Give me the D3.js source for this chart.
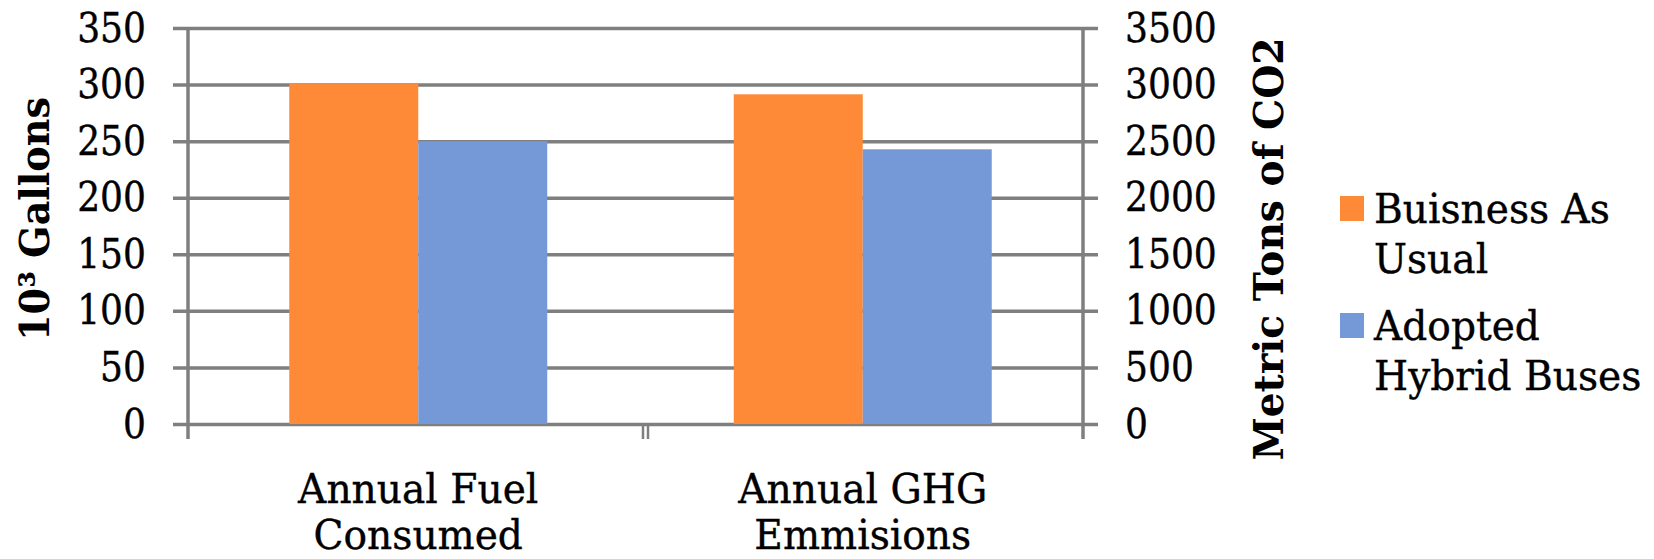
<!DOCTYPE html>
<html>
<head>
<meta charset="utf-8">
<script src="https://d3js.org/d3.v7.min.js"></script>
<style>
  html, body { margin: 0; padding: 0; background: #ffffff; }
  svg { display: block; }
  text { font-family: "DejaVu Serif", "Liberation Serif", serif; fill: #000; }
</style>
</head>
<body>
<svg id="chart" width="1654" height="559"></svg>
<script>
// Categories (each label is split over two lines)
const categories = ["Annual Fuel Consumed", "Annual GHG Emmisions"];
const categoryLines = [["Annual Fuel", "Consumed"], ["Annual GHG", "Emmisions"]];
// Which vertical axis each category is measured against
const categoryAxis = ["left", "right"];

// Series values per category (fuel in 10^3 gallons, GHG in metric tons CO2)
const seriesNames = ["Buisness As Usual", "Adopted Hybrid Buses"];
const businessAsUsual = [301, 2914];
const adoptedHybrid = [250, 2428];

// Tick labels
const leftTicks = [0, 50, 100, 150, 200, 250, 300, 350];
const rightTicks = [0, 500, 1000, 1500, 2000, 2500, 3000, 3500];

const colors = ["#FE8937", "#7598D6"];
const gridColor = "#7f7f7f";
const sxNum = 0.88;  // horizontal squeeze for tick numbers
const sxText = 0.955; // horizontal squeeze for words

const svg = d3.select("#chart");

const plotLeft = 188, plotRight = 1083, plotTop = 28, plotBottom = 424;
const tickOut = 15;

const yLeft = d3.scaleLinear().domain([0, 350]).range([plotBottom, plotTop]);
const yRight = d3.scaleLinear().domain([0, 3500]).range([plotBottom, plotTop]);

const x0 = d3.scaleBand().domain(categories).range([plotLeft + 8, plotRight + 2]).padding(0);
const x1 = d3.scaleBand().domain(seriesNames).range([0, 258]).padding(0);
const groupOffset = (x0.bandwidth() - 258) / 2;

function styleTickText(sel) {
  sel.attr("font-size", 41)
    .attr("font-family", "DejaVu Serif")
    .attr("fill", "#000")
    .attr("stroke", "#000")
    .attr("stroke-width", 0.4)
    .attr("transform", `scale(${sxNum},1)`);
}

// Horizontal gridlines + left tick labels
const leftAxis = d3.axisLeft(yLeft)
  .tickValues(leftTicks)
  .tickFormat(d3.format("d"))
  .tickSize(-(plotRight - plotLeft + 2 * tickOut))
  .tickPadding(27 / sxNum);
const gL = svg.append("g")
  .attr("transform", `translate(${plotLeft - tickOut},0)`)
  .call(leftAxis);
gL.select(".domain").remove();
gL.selectAll("line").attr("stroke", gridColor).attr("stroke-width", 3.5);
gL.selectAll("text").call(styleTickText);

// Right tick labels
const rightAxis = d3.axisRight(yRight)
  .tickValues(rightTicks)
  .tickFormat(d3.format("d"))
  .tickSize(0)
  .tickPadding(27 / sxNum);
const gR = svg.append("g")
  .attr("transform", `translate(${plotRight + tickOut},0)`)
  .call(rightAxis);
gR.select(".domain").remove();
gR.selectAll("text").call(styleTickText);

// Bars
const rows = categories.map((c, i) => ({
  cat: c,
  scale: categoryAxis[i] === "left" ? yLeft : yRight,
  values: [businessAsUsual[i], adoptedHybrid[i]]
}));

const groups = svg.append("g").selectAll("g")
  .data(rows)
  .join("g")
  .attr("transform", d => `translate(${x0(d.cat) + groupOffset},0)`);

groups.selectAll("rect")
  .data(d => d.values.map((v, j) => ({ name: seriesNames[j], v, scale: d.scale, j })))
  .join("rect")
  .attr("x", d => x1(d.name))
  .attr("width", x1.bandwidth())
  .attr("y", d => d.scale(d.v))
  .attr("height", d => d.scale(0) - d.scale(d.v))
  .attr("fill", d => colors[d.j]);

// Vertical axis lines
const axisLines = svg.append("g").attr("stroke", gridColor).attr("stroke-width", 3.5);
[plotLeft, plotRight].forEach(x => {
  axisLines.append("line")
    .attr("x1", x).attr("x2", x)
    .attr("y1", plotTop).attr("y2", plotBottom + tickOut);
});
// Category divider tick (doubled)
const divider = x0(categories[1]) + 5;
[-2.5, 2.5].forEach(dx => {
  axisLines.append("line")
    .attr("x1", divider + dx).attr("x2", divider + dx)
    .attr("y1", plotBottom).attr("y2", plotBottom + tickOut)
    .attr("stroke-width", 2.5);
});

// Category labels
const catLabels = svg.append("g");
categories.forEach((c, i) => {
  const cx = x0(c) + x0.bandwidth() / 2;
  categoryLines[i].forEach((line, k) => {
    catLabels.append("text")
      .attr("transform", `translate(${cx},${503 + k * 46}) scale(${sxText},1)`)
      .attr("text-anchor", "middle")
      .attr("font-size", 41)
      .attr("stroke", "#000")
      .attr("stroke-width", 0.4)
      .text(line);
  });
});

// Axis titles
svg.append("text")
  .attr("transform", `translate(49,${(plotTop + plotBottom) / 2 - 7}) rotate(-90) scale(0.93,1)`)
  .attr("text-anchor", "middle")
  .attr("font-size", 41)
  .attr("font-weight", "bold")
  .text("10³ Gallons");

svg.append("text")
  .attr("transform", `translate(1283,${(plotTop + plotBottom) / 2 + 23}) rotate(-90) scale(${sxText},1)`)
  .attr("text-anchor", "middle")
  .attr("font-size", 41)
  .attr("font-weight", "bold")
  .text("Metric Tons of CO2");

// Legend
const legendItems = [
  { lines: ["Buisness As", "Usual"], top: 196 },
  { lines: ["Adopted", "Hybrid Buses"], top: 313 }
];
const legend = svg.append("g");
legendItems.forEach((item, i) => {
  legend.append("rect")
    .attr("x", 1340).attr("y", item.top)
    .attr("width", 24).attr("height", 25)
    .attr("fill", colors[i]);
  item.lines.forEach((line, k) => {
    legend.append("text")
      .attr("transform", `translate(1374,${item.top + 27 + k * 50}) scale(${sxText},1)`)
      .attr("font-size", 41)
      .attr("stroke", "#000")
      .attr("stroke-width", 0.4)
      .text(line);
  });
});
</script>
</body>
</html>
